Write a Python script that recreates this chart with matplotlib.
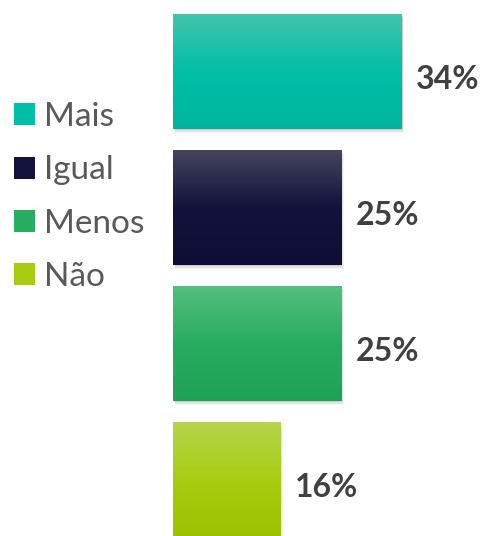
import numpy as np
import matplotlib
matplotlib.use("Agg")
import matplotlib.pyplot as plt
from matplotlib.patches import Patch, Rectangle
from matplotlib.colors import LinearSegmentedColormap

categories = ["Mais", "Igual", "Menos", "Não"]
values = [34, 25, 25, 16]
labels = ["34%", "25%", "25%", "16%"]
top_colors = ["#45C3AE", "#45455F", "#55BE80", "#B5D54E"]
mid_colors = ["#00BFA6", "#12123C", "#27AD5F", "#A8CC10"]
bot_colors = ["#00B39D", "#0E0E35", "#1FA255", "#9CC200"]

plt.rcParams["font.family"] = ["Lato", "DejaVu Sans"]

fig = plt.figure(figsize=(4.86, 5.36), dpi=100)
ax = fig.add_axes([173 / 486, 0, 313 / 486, 1])
ax.set_xlim(0, 313 / 6.73)
ax.set_ylim(3.415, -0.526)
ax.axis("off")

h = 0.845
ys = np.arange(len(categories))
bars = ax.barh(ys, values, height=h, color=mid_colors, zorder=2)

for i, b in enumerate(bars):
    x0, y0 = b.get_x(), b.get_y()
    w, hh = b.get_width(), b.get_height()
    for k, a in enumerate([0.10, 0.07, 0.04]):
        off = 0.12 * (k + 1)
        sh = Rectangle((x0 + off, y0 + off * 0.08), w, hh, facecolor="#000000",
                       alpha=a, edgecolor="none", zorder=1)
        ax.add_patch(sh)
    cmap = LinearSegmentedColormap.from_list(
        "g%d" % i, [top_colors[i], mid_colors[i], bot_colors[i]])
    grad = np.linspace(0, 1, 256).reshape(-1, 1)
    im = ax.imshow(grad, cmap=cmap, aspect="auto",
                   extent=(x0, x0 + w, y0 + hh, y0), zorder=3,
                   interpolation="bilinear")
    im.set_clip_path(b)
    ax.text(values[i] + 2.1, ys[i] + 0.055, labels[i], va="center", ha="left",
            fontsize=23, fontweight="bold", color="#404040", zorder=4)

ax.set_xlim(0, 313 / 6.73)
ax.set_ylim(3.415, -0.526)

handles = [Patch(facecolor=c, edgecolor="none") for c in mid_colors]
fig.legend(handles, categories, loc="upper left",
           bbox_to_anchor=(14 / 486, 1 - 102 / 536), frameon=False,
           fontsize=24, labelcolor="#595959", handlelength=0.63,
           handleheight=0.63, handletextpad=0.27, labelspacing=0.7,
           borderaxespad=0, borderpad=0)

fig.savefig("out.png", dpi=100)
